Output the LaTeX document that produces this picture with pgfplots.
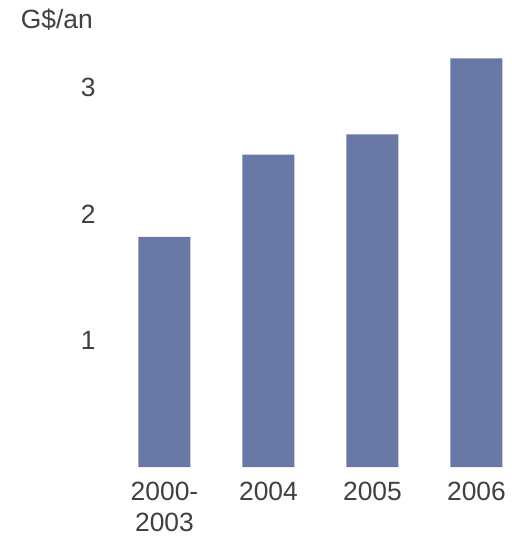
\documentclass[border=0pt]{standalone}
\usepackage{fontspec}
\setmainfont{Liberation Sans}
\usepackage{pgfplots}
\pgfplotsset{compat=1.18}
\definecolor{barblue}{RGB}{105,119,165}
\definecolor{txtgray}{RGB}{64,64,64}
\begin{document}
\begin{tikzpicture}
    \useasboundingbox (-100bp,-72bp) rectangle (412bp,467bp);
    \begin{axis}[
        x=104bp, y=126.5bp,
        xmin=-0.62, xmax=3.245,
        ymin=0, ymax=3.3,
        axis lines=none,
        xtick={0,1,2,3},
        xticklabels={{2000-\\2003},2004,2005,2006},
        ytick={1,2,3},
        major tick length=0pt,
        clip=false,
        /pgf/number format/assume math mode=true,
        ticklabel style={font=\fontsize{26.5}{31}\selectfont, text=txtgray},
        xticklabel style={align=center, yshift=-12bp},
        yticklabel style={xshift=-1bp},
        hide x axis=false, hide y axis=false,
        axis line style={draw=none},
    ]
    \addplot[ybar, bar width=52bp, fill=barblue, draw=none] coordinates {
        (0,1.82) (1,2.47) (2,2.63) (3,3.23)
    };
    \node[anchor=east, font=\fontsize{26.5}{31}\selectfont, text=txtgray, inner sep=0pt]
        at (axis cs:-0.62,3.54) [xshift=-7bp] {G\$/an};
    \end{axis}
\end{tikzpicture}
\end{document}
